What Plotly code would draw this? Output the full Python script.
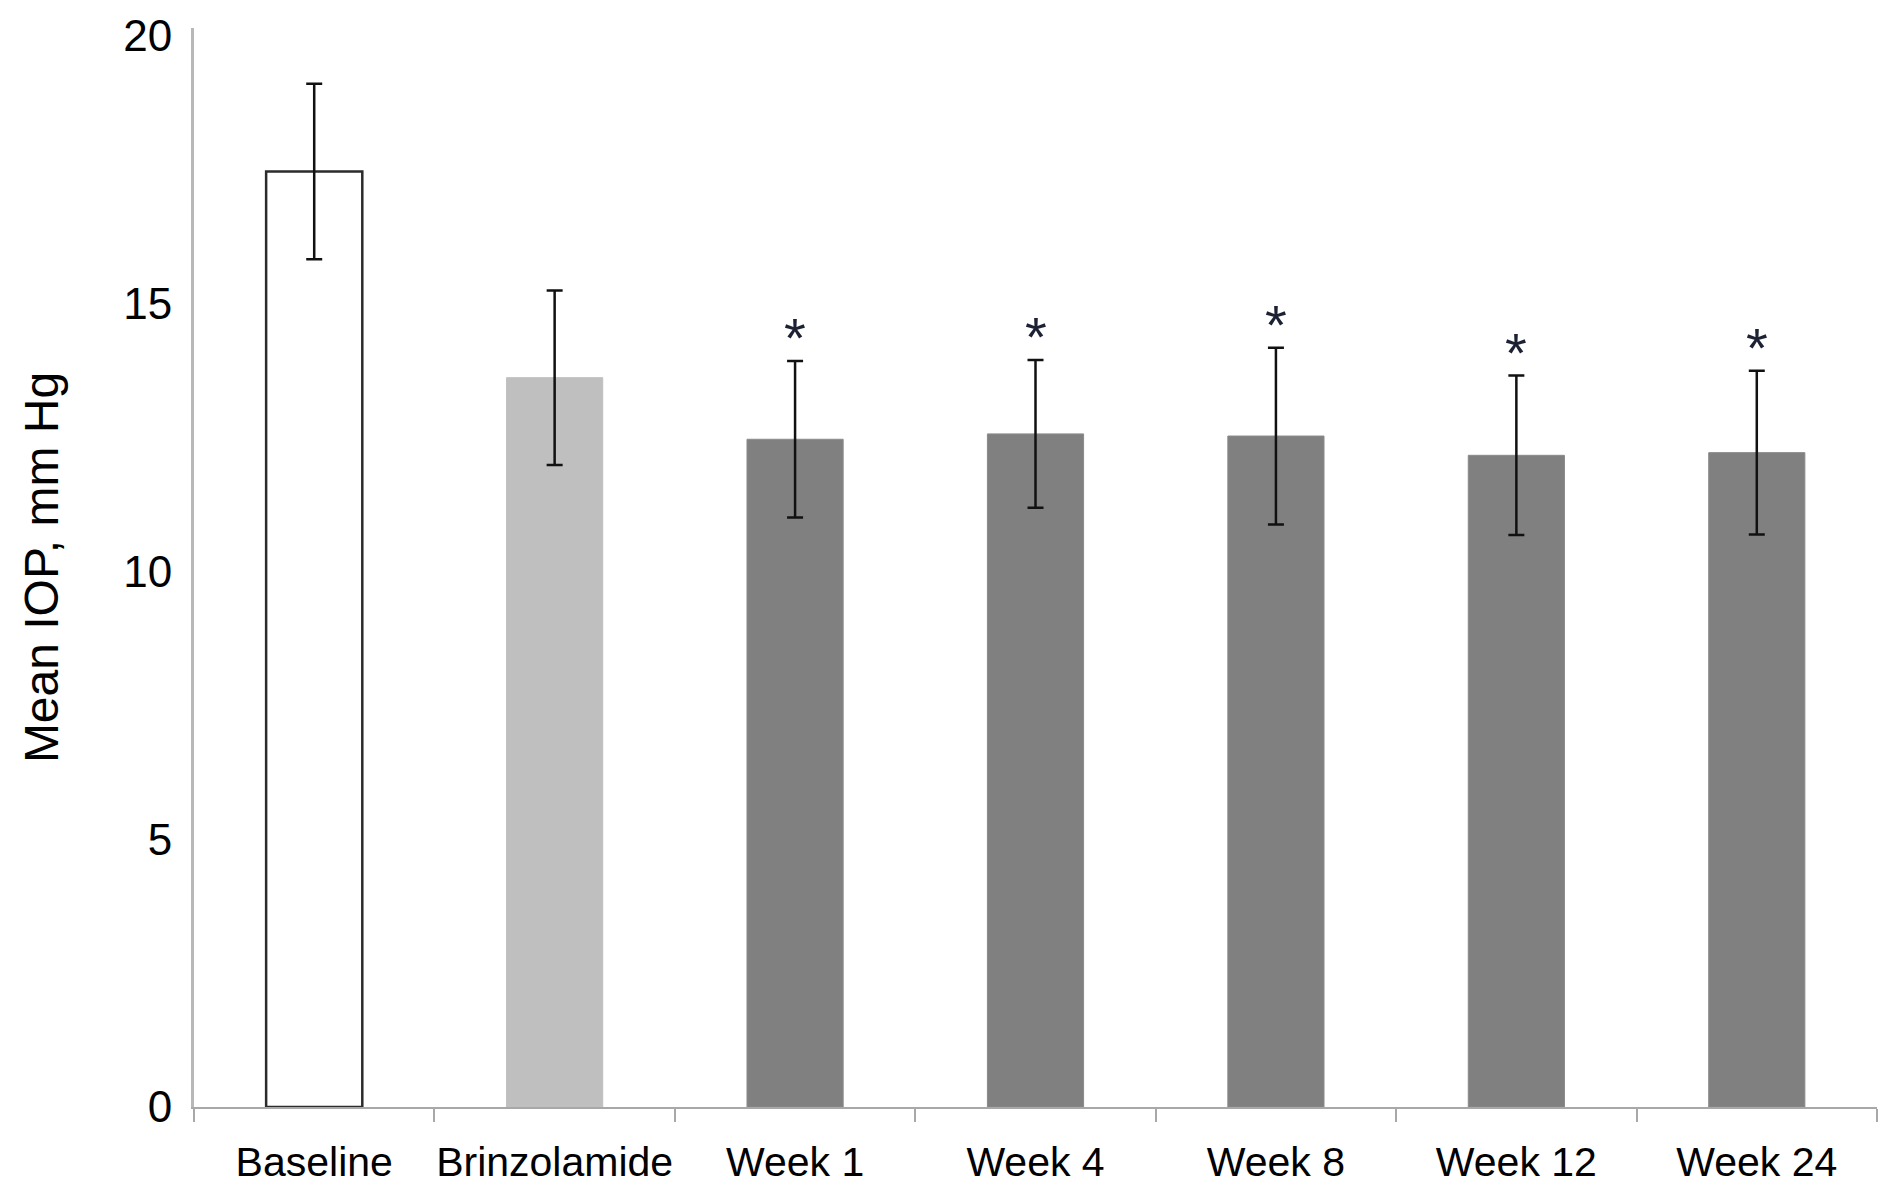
import plotly.graph_objects as go

categories = ["Baseline", "Brinzolamide", "Week 1", "Week 4", "Week 8", "Week 12", "Week 24"]
mean_iop = [17.47, 13.62, 12.47, 12.57, 12.53, 12.17, 12.22]
sd_iop = [1.64, 1.63, 1.46, 1.38, 1.65, 1.49, 1.53]
significant = [False, False, True, True, True, True, True]
y_ticks = [0, 5, 10, 15, 20]

fill_colors = ["#ffffff", "#bfbfbf", "#808080", "#808080", "#808080", "#808080", "#808080"]
line_colors = ["#2b2b2b", "#bfbfbf", "#8a8a8a", "#8a8a8a", "#8a8a8a", "#8a8a8a", "#8a8a8a"]

fig = go.Figure()
fig.add_trace(go.Bar(
    x=categories,
    y=mean_iop,
    width=0.4,
    marker=dict(color=fill_colors, line=dict(color=line_colors, width=[2.5, 1, 1, 1, 1, 1, 1])),
    error_y=dict(type="data", array=sd_iop, visible=True, color="#111111", thickness=2.5, width=8),
    showlegend=False,
))

for cat, m, s, sig in zip(categories, mean_iop, sd_iop, significant):
    if sig:
        fig.add_annotation(
            x=cat, y=m + s, xref="x", yref="y",
            text="*", showarrow=False,
            font=dict(family="Liberation Sans, Arial, sans-serif", size=56, color="#1c2233"),
            yanchor="bottom", yshift=-10,
        )

fig.update_layout(
    width=1886, height=1204,
    margin=dict(l=186, r=17, t=20, b=105, autoexpand=False),
    paper_bgcolor="white", plot_bgcolor="white",
    font=dict(family="Liberation Sans, Arial, sans-serif", color="#000000"),
    bargap=0.6,
    xaxis=dict(
        showline=True, linecolor="#a8a8a8", linewidth=2,
        ticks="outside", tickson="boundaries", ticklen=13, tickcolor="#a8a8a8", tickwidth=2,
        tickfont=dict(size=41, color="#000000"),
        tickangle=0, ticklabelstandoff=18,
        showgrid=False, zeroline=False,
    ),
    yaxis=dict(
        range=[0, 20.15],
        tickvals=y_ticks,
        showline=True, linecolor="#b8b8b8", linewidth=3,
        ticks="", showgrid=False, zeroline=False,
        tickfont=dict(size=44, color="#000000"),
        ticklabelstandoff=10,
        title=dict(text="Mean IOP, mm Hg", font=dict(size=48, color="#000000"), standoff=50),
        automargin=False,
    ),
)

fig.write_html("out.html")
